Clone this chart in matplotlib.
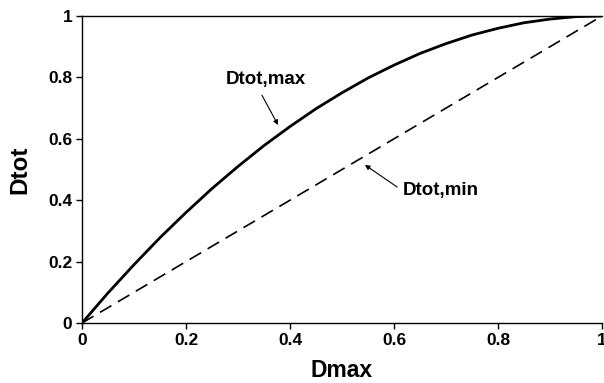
import matplotlib
matplotlib.use("Agg")
import matplotlib.pyplot as plt

# values
dmax = [0.0, 0.05, 0.1, 0.15, 0.2, 0.25, 0.3, 0.35, 0.4, 0.45, 0.5,
        0.55, 0.6, 0.65, 0.7, 0.75, 0.8, 0.85, 0.9, 0.95, 1.0]
dtot_max = [0.0, 0.098, 0.19, 0.278, 0.36, 0.438, 0.51, 0.578, 0.64, 0.698, 0.75,
            0.798, 0.84, 0.878, 0.91, 0.938, 0.96, 0.978, 0.99, 0.998, 1.0]
dmin_x = [0.0, 1.0]
dtot_min = [0.0, 1.0]

ticks = [0, 0.2, 0.4, 0.6, 0.8, 1]
tick_labels = ["0", "0.2", "0.4", "0.6", "0.8", "1"]

plt.rcParams["font.family"] = ["Liberation Sans", "DejaVu Sans"]
plt.rcParams["font.weight"] = "bold"

fig = plt.figure(figsize=(6.04, 3.83), dpi=100)
ax = fig.add_axes([0.1358, 0.1567, 0.8609, 0.8015])

ax.plot(dmax, dtot_max, color="black", lw=2.0, solid_capstyle="butt")
ax.plot(dmin_x, dtot_min, color="black", lw=1.2, dashes=(8, 4.5))

ax.set_xlim(0, 1)
ax.set_ylim(0, 1)
ax.set_xticks(ticks)
ax.set_xticklabels(tick_labels)
ax.set_yticks(ticks)
ax.set_yticklabels(tick_labels)
ax.tick_params(direction="out", length=4, width=1, labelsize=12.5, pad=3)
for lbl in ax.get_xticklabels() + ax.get_yticklabels():
    lbl.set_fontweight("bold")

ax.spines["right"].set_visible(False)
for s in ["left", "bottom", "top"]:
    ax.spines[s].set_linewidth(1.0)

ax.set_xlabel("Dmax", fontsize=16.5, fontweight="bold", labelpad=8)
ax.set_ylabel("Dtot", fontsize=17.5, fontweight="bold", labelpad=12)

arrow = dict(arrowstyle="-|>", color="black", lw=0.8, mutation_scale=7,
             shrinkA=0, shrinkB=0)
ax.text(0.354, 0.792, "Dtot,max", ha="center", va="center",
        fontsize=13.5, fontweight="bold")
ax.annotate("", xy=(0.377, 0.645), xytext=(0.346, 0.742), arrowprops=arrow)
ax.text(0.689, 0.433, "Dtot,min", ha="center", va="center",
        fontsize=13.5, fontweight="bold")
ax.annotate("", xy=(0.544, 0.515), xytext=(0.606, 0.443), arrowprops=arrow)

fig.savefig("out.png", dpi=100)
